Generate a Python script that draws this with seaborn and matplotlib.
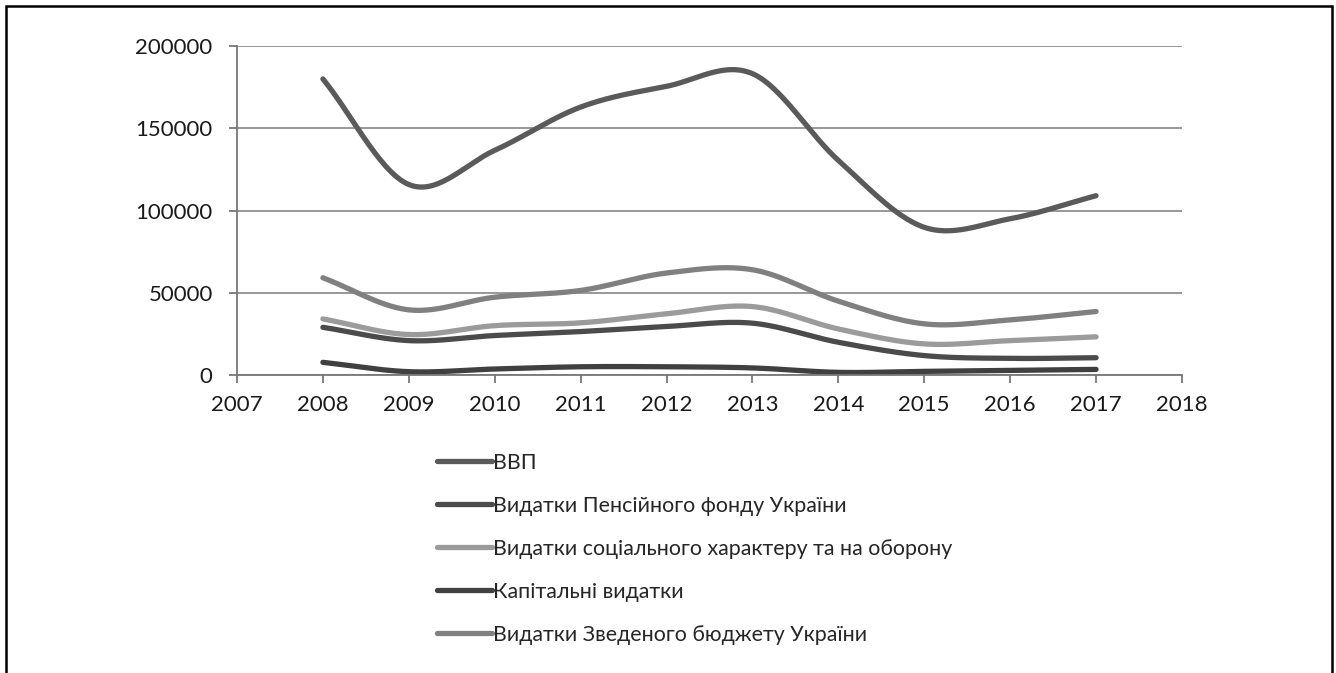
import numpy as np
import pandas as pd
import matplotlib
matplotlib.use("Agg")
import matplotlib.pyplot as plt
import matplotlib.patches as patches
import seaborn as sns

# data
years = [2008, 2009, 2010, 2011, 2012, 2013, 2014, 2015, 2016, 2017]
series_names = ['ВВП',
                'Видатки Пенсійного фонду України',
                'Видатки соціального характеру та на оборону',
                'Капітальні видатки',
                'Видатки Зведеного бюджету України']
vvp = [180000, 115800, 136600, 162900, 175500, 183200, 130500, 89800, 95000, 109000]
pension = [29000, 20900, 24000, 26400, 29500, 31500, 19900, 11800, 10100, 10500]
social = [34100, 24600, 30000, 31700, 37200, 41600, 28000, 18900, 20900, 23200]
capital = [7700, 2000, 3650, 5000, 5000, 4300, 1600, 2200, 2800, 3400]
budget = [59100, 39600, 47300, 51400, 62000, 64000, 44900, 31100, 33500, 38600]
colors = ['#5a5a5a', '#4b4b4b', '#9b9b9b', '#404040', '#808080']
y_ticks = [0, 50000, 100000, 150000, 200000]
x_ticks = list(range(2007, 2019))


# smoothed line like the spreadsheet "smooth line" option (Catmull-Rom)
def smooth(x, y, n=30):
    x = np.asarray(x, float)
    y = np.asarray(y, float)
    px = np.concatenate([[2 * x[0] - x[1]], x, [2 * x[-1] - x[-2]]])
    py = np.concatenate([[2 * y[0] - y[1]], y, [2 * y[-1] - y[-2]]])
    xs, ys = [], []
    t = np.linspace(0, 1, n, endpoint=False)
    for i in range(1, len(px) - 2):
        for p, out in ((px, xs), (py, ys)):
            p0, p1, p2, p3 = p[i - 1], p[i], p[i + 1], p[i + 2]
            out.extend(0.5 * (2 * p1 + (-p0 + p2) * t + (2 * p0 - 5 * p1 + 4 * p2 - p3) * t ** 2
                              + (-p0 + 3 * p1 - 3 * p2 + p3) * t ** 3))
    xs.append(x[-1])
    ys.append(y[-1])
    return xs, ys


frames = []
for name, vals in zip(series_names, [vvp, pension, social, capital, budget]):
    sx, sy = smooth(years, vals)
    frames.append(pd.DataFrame({'Рік': sx, 'Значення': sy, 'Показник': name}))
df = pd.concat(frames, ignore_index=True)

sns.set_style('white')
plt.rcParams['font.family'] = ['Lato', 'Open Sans', 'DejaVu Sans']

fig = plt.figure(figsize=(13.36, 6.73), dpi=100)
ax = fig.add_axes([0.1774, 0.4428, 0.7073, 0.4888])

sns.lineplot(data=df, x='Рік', y='Значення', hue='Показник', hue_order=series_names,
             palette=dict(zip(series_names, colors)), estimator=None, sort=False,
             lw=3.8, legend=False, ax=ax, solid_capstyle='round')

ax.set_xlim(2007, 2018)
ax.set_ylim(0, 200000)
ax.set_xticks(x_ticks)
ax.set_yticks(y_ticks)
ax.set_xlabel('')
ax.set_ylabel('')
ax.yaxis.grid(True, color='#868686', lw=1.2)
ax.set_axisbelow(True)
for s in ['top', 'right']:
    ax.spines[s].set_visible(False)
for s in ['left', 'bottom']:
    ax.spines[s].set_color('#777777')
    ax.spines[s].set_linewidth(1.3)
ax.tick_params(axis='both', direction='out', length=5.5, width=1.3, color='#777777',
               labelsize=16, labelcolor='#1a1a1a')
ax.tick_params(axis='y', pad=12)
ax.tick_params(axis='x', pad=9)
ax.tick_params(left=True, bottom=True)

fig.legend(ax.get_lines()[:5], series_names, loc='upper left', bbox_to_anchor=(0.327, 0.3275),
           frameon=False, fontsize=15.4, handlelength=2.57, handletextpad=0.05,
           labelspacing=1.075, borderpad=0, borderaxespad=0)

fig.add_artist(patches.Rectangle((6 / 1336, -0.05), 1326 / 1336, 1.041, transform=fig.transFigure,
                                 fill=False, ec='black', lw=1.8, clip_on=False))

fig.savefig('out.png', dpi=100)
